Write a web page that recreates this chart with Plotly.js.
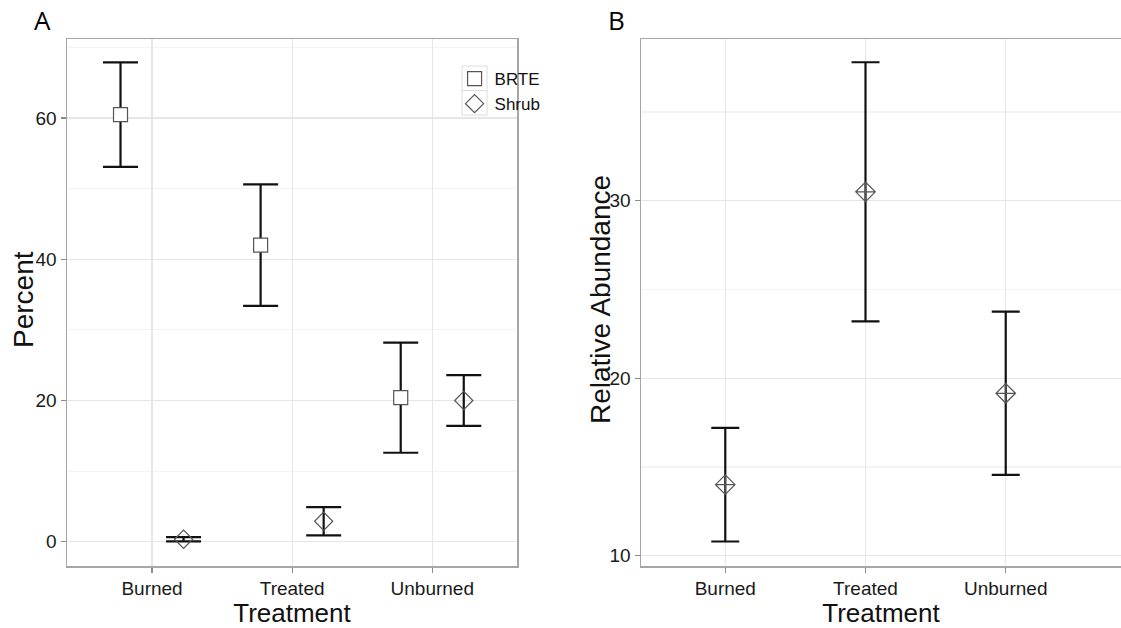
<!DOCTYPE html>
<html>
<head>
<meta charset="utf-8">
<script src="https://cdn.plot.ly/plotly-3.0.1.min.js"></script>
<style>
  html, body { margin: 0; padding: 0; background: #fff; }
  #chart { width: 1121px; height: 628px; }
</style>
</head>
<body>
<div id="chart"></div>
<script>
// Treatment groups shared by both panels
const treatments = ['Burned', 'Treated', 'Unburned'];

// Panel A: percent cover (mean and error half-width)
const brteMean = [60.5, 42.0, 20.4];
const brteErr  = [7.4, 8.6, 7.8];
const shrubMean = [0.35, 2.9, 20.0];
const shrubErr  = [0.3, 2.0, 3.6];

// Panel B: shrub relative abundance (mean and error half-width)
const abundMean = [14.0, 30.5, 19.15];
const abundErr  = [3.2, 7.3, 4.6];

// Side-by-side placement of the two series within each treatment
const dodge = 0.225;
const idx = treatments.map((_, i) => i);
const shift = (d) => idx.map(i => i + d);

const markerGrey = '#555555';

const errStyle = (arr, w) => ({
  type: 'data', array: arr, visible: true,
  color: '#111111', thickness: 2.2, width: w
});

const traces = [
  {
    name: 'BRTE', type: 'scatter', mode: 'markers',
    x: shift(-dodge), y: brteMean,
    error_y: errStyle(brteErr, 17.5),
    marker: { symbol: 'square', size: 14, color: '#ffffff',
              line: { color: markerGrey, width: 1.2 } },
    xaxis: 'x', yaxis: 'y', cliponaxis: false
  },
  {
    name: 'Shrub', type: 'scatter', mode: 'markers',
    x: shift(dodge), y: shrubMean,
    error_y: errStyle(shrubErr, 17.5),
    marker: { symbol: 'diamond-open', size: 14, color: markerGrey,
              line: { color: markerGrey, width: 1.2 } },
    xaxis: 'x', yaxis: 'y', cliponaxis: false
  },
  {
    name: 'Shrub', type: 'scatter', mode: 'markers', showlegend: false,
    x: idx, y: abundMean,
    error_y: errStyle(abundErr, 14),
    marker: { symbol: 'diamond-cross-open', size: 15, color: markerGrey,
              line: { color: markerGrey, width: 1.2 } },
    xaxis: 'x2', yaxis: 'y2', cliponaxis: false
  }
];

const fontFam = '"Liberation Sans", Arial, sans-serif';
const borderCol = '#a6a6a6';
const titleFont = { family: fontFam, size: 28, color: '#111' };

const xBase = {
  tickmode: 'array', tickvals: idx, ticktext: treatments,
  ticks: 'outside', ticklen: 5, tickcolor: '#8a8a8a', tickwidth: 1.2,
  tickfont: { family: fontFam, size: 19, color: '#1a1a1a' },
  showgrid: true, gridcolor: '#e6e6e6', gridwidth: 1.2,
  zeroline: false, showline: true, linecolor: borderCol, linewidth: 1.5,
  mirror: true,
  title: { text: 'Treatment', font: { family: fontFam, size: 26, color: '#111' }, standoff: 0 }
};

const yBase = {
  ticks: 'outside', ticklen: 5, tickcolor: '#8a8a8a', tickwidth: 1.2,
  tickfont: { family: fontFam, size: 19, color: '#1a1a1a' },
  showgrid: true, gridcolor: '#e6e6e6', gridwidth: 1.2,
  zeroline: false, showline: true, linecolor: borderCol, linewidth: 1.5,
  domain: [1 - 566 / 628, 1 - 39 / 628]
};

const yMid = 1 - 300 / 628;

// light frames behind the two legend keys
const keyBox = (top, bottom) => ({
  type: 'rect', xref: 'paper', yref: 'paper', layer: 'below',
  x0: 462 / 1121, x1: 487 / 1121, y0: 1 - bottom / 628, y1: 1 - top / 628,
  line: { color: '#dcdcdc', width: 1 }, fillcolor: 'rgba(0,0,0,0)'
});

const layout = {
  width: 1121, height: 628,
  margin: { l: 0, r: 0, t: 0, b: 0 },
  paper_bgcolor: '#ffffff', plot_bgcolor: '#ffffff',
  font: { family: fontFam },
  showlegend: true,
  legend: {
    x: 0.4055, y: 1 - 61 / 628, xanchor: 'left', yanchor: 'top',
    bgcolor: 'rgba(0,0,0,0)', borderwidth: 0,
    font: { family: fontFam, size: 17, color: '#111' },
    tracegroupgap: 0, itemsizing: 'trace'
  },
  xaxis: Object.assign({}, xBase, {
    domain: [67 / 1121, 517 / 1121], range: [-0.607, 2.605], anchor: 'y'
  }),
  yaxis: Object.assign({}, yBase, {
    range: [-3.44, 71.2], tickvals: [0, 20, 40, 60], anchor: 'x', mirror: true,
    minor: { dtick: 10, tick0: 0, showgrid: true, gridcolor: '#f3f3f3', gridwidth: 1.2, ticks: '' }
  }),
  xaxis2: Object.assign({}, xBase, {
    domain: [641 / 1121, 1], range: [-0.601, 2.822], anchor: 'y2'
  }),
  yaxis2: Object.assign({}, yBase, {
    range: [9.42, 39.11], tickvals: [10, 20, 30], anchor: 'x2', mirror: false,
    minor: { dtick: 5, tick0: 0, showgrid: true, gridcolor: '#f3f3f3', gridwidth: 1.2, ticks: '' }
  }),
  shapes: [keyBox(66, 90.5), keyBox(90.5, 115)],
  annotations: [
    { text: 'A', xref: 'paper', yref: 'paper', x: 42 / 1121, y: 1 - 20 / 628,
      xanchor: 'center', yanchor: 'middle', showarrow: false,
      font: { family: '"Open Sans", sans-serif', size: 26, color: '#000' } },
    { text: 'B', xref: 'paper', yref: 'paper', x: 616 / 1121, y: 1 - 20 / 628,
      xanchor: 'center', yanchor: 'middle', showarrow: false,
      font: { family: '"Open Sans", sans-serif', size: 26, color: '#000' } },
    // vertical axis titles
    { text: 'Percent', xref: 'paper', yref: 'paper', x: 23 / 1121, y: yMid,
      xanchor: 'center', yanchor: 'middle', textangle: -90, showarrow: false,
      font: titleFont },
    { text: 'Relative Abundance', xref: 'paper', yref: 'paper', x: 600 / 1121, y: yMid,
      xanchor: 'center', yanchor: 'middle', textangle: -90, showarrow: false,
      font: titleFont }
  ]
};

Plotly.newPlot('chart', traces, layout, { displayModeBar: false, staticPlot: true });
</script>
</body>
</html>
